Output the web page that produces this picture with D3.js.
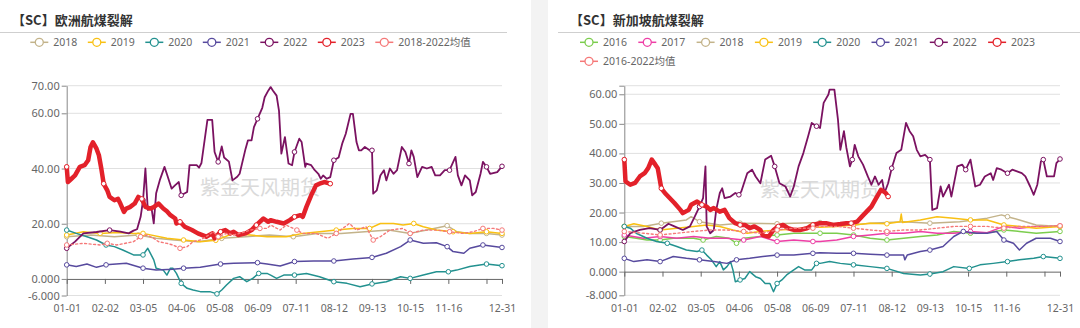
<!DOCTYPE html>
<html><head><meta charset="utf-8">
<script src="https://cdn.jsdelivr.net/npm/d3@7"></script>
<style>
body{margin:0;background:#fff;}
svg{display:block;}
</style>
</head><body>
<svg id="c" width="1080" height="328"></svg>
<script>
// ---------- DATA ----------
// category axis: every day of a (leap) year, MM-DD
const categories = d3.timeDay.range(new Date(2020,0,1), new Date(2021,0,1)).map(d3.timeFormat("%m-%d"));
const xTickDays  = [0,32,64,96,128,160,192,224,256,288,320,352,365];
const xLabelDays = [0,32,64,96,128,160,192,224,256,288,320,365];

const euYTicks  = [-6,0,20,40,60,70];
const euYLabels = ["-6.000","0.000","20.00","40.00","60.00","70.00"];
const sgYTicks  = [-8,0,10,20,30,40,50,60,62.9];
const sgYLabels = ["-8.000","0.000","10.00","20.00","30.00","40.00","50.00","60.00",""];

// Europe jet crack  [dayIndex, value]
const eu2018 = [[0,15.3],[20,15.9],[40,15.3],[60,15.9],[75,14.7],[90,14.1],[110,13.5],[130,14.7],[150,15.3],[170,15.9],[190,15.3],[210,16.5],[230,16.5],[250,17.1],[270,17.7],[288,16.5],[302,17.7],[319,19.3],[327,17.1],[338,16.5],[352,16.5],[365,15.9]];
const eu2019 = [[0,15.9],[14,17.1],[28,16.5],[42,16.8],[56,16.5],[64,16.5],[84,14.7],[98,14.1],[112,13.5],[125,14],[140,16.5],[154,15.9],[168,15.3],[184,15.3],[198,16.5],[212,17.1],[226,17.7],[240,18.3],[254,18.3],[263,20.1],[274,20.1],[282,19.5],[291,20.1],[299,18.9],[310,17.7],[324,17.1],[338,16.5],[352,17.1],[365,16.5]];
const eu2020 = [[0,17.7],[8,16.5],[17,15.3],[25,14.1],[33,12.3],[40,11.7],[47,10.5],[56,8.7],[64,8.7],[68,11.1],[73,6.9],[75,3.9],[81,3.2],[84,1.4],[87,3.9],[89,3.9],[92,2],[96,-1.6],[101,-3.4],[106,-4],[112,-4.6],[120,-4.6],[126,-5.4],[130,-4],[134,-2.2],[140,0.2],[145,0.8],[151,-1],[156,0.2],[161,2],[168,2],[171,1.4],[176,0.2],[182,1.4],[191,1.4],[201,2],[212,0.8],[224,-1],[235,-1.6],[246,-2.8],[256,-1.8],[268,-1],[280,0.8],[288,0.2],[299,1.4],[310,2.6],[320,2.6],[327,3.2],[338,4.5],[352,5.4],[365,4.8]];
const eu2021 = [[0,5.1],[8,4.5],[17,5.4],[25,4.2],[33,5.1],[50,5.7],[64,3.9],[75,3.2],[89,3.5],[98,3.9],[112,4.2],[129,5.4],[140,5.7],[160,5.9],[168,5.4],[179,4.7],[191,6.3],[207,6.5],[224,6.5],[240,7.2],[256,7.8],[268,9.3],[280,11.7],[288,14.1],[299,12.9],[310,13.1],[319,11.7],[324,9.9],[333,9.3],[338,11.1],[349,12.3],[365,11.4]];
const eu2022 = [[0,11.1],[7,13.5],[14,16.5],[25,17],[36,17.7],[45,17.1],[52,16.5],[56,17.5],[59,18],[62,22.5],[64,28.5],[66,40],[68,25],[71,26],[73,20.1],[75,31],[78,35.7],[82,40.6],[84,38],[88,32.7],[91,34],[94,35.1],[96,30.3],[101,31.5],[103,41.2],[109,41.2],[111,40.3],[113,42],[118,57.6],[122,57.6],[124,46],[127,42.4],[130,48],[132,44],[136,42.5],[139,35.7],[143,37],[145,38.1],[150,47.2],[152,50.2],[155,50.2],[157,55],[160,58],[164,62],[166,65.8],[169,68.2],[171,69.5],[173,68.2],[176,66.4],[178,61],[180,45.4],[183,51.4],[186,41.8],[189,41.2],[191,46],[195,50.8],[197,49.6],[200,40.6],[201,41.8],[205,41.2],[208,39.4],[211,38.1],[213,36.3],[215,37.5],[218,36.3],[221,36.9],[224,43],[228,44],[231,49],[234,52.6],[238,59.8],[240,59.8],[243,49.6],[245,46.6],[247,46.6],[250,47.8],[254,46.6],[256,46.6],[257,30.9],[260,32.1],[263,37.5],[266,39.4],[268,35.7],[271,40],[274,38.1],[277,39.4],[281,47.8],[284,46],[287,41.8],[289,46.6],[291,44.2],[294,36.9],[298,40.6],[302,40],[306,40.6],[309,37.5],[313,37.5],[317,39.4],[321,39.4],[326,44.2],[328,37.5],[331,33.9],[334,37.5],[338,35.7],[340,30.3],[343,31.5],[347,38.1],[349,42.4],[352,40.6],[355,38.1],[361,38.7],[365,40.8]];
const eu2023 = [[0,40.6],[1,35.1],[4,36.3],[7,37.5],[11,40.6],[15,41.2],[18,43],[20,47.8],[22,49.5],[25,47.2],[27,44.8],[29,40],[31,34.5],[34,32.1],[36,29.7],[40,28.5],[43,29],[45,27.3],[48,24.3],[50,25.5],[53,26],[57,27.3],[60,29.7],[63,29],[66,26.1],[70,25.5],[73,26],[77,27.3],[81,25.5],[84,24.5],[87,23.1],[91,21.9],[92,20.1],[95,20.7],[99,18.9],[105,17.7],[110,16.5],[117,15.3],[122,16.5],[124,14.7],[129,17.1],[133,17.7],[137,16.5],[140,17.1],[144,15.9],[150,16.5],[155,17.7],[159,19.5],[165,21.9],[169,20.7],[171,21.3],[176,20.7],[182,20.1],[187,21.3],[191,22.5],[196,23.1],[198,22.5],[201,26.1],[205,30.3],[209,33.9],[212,34.5],[216,35.1],[221,34.5]];
const euMean = [[0,12.3],[14,12.9],[28,12.3],[34,12.9],[42,12.3],[56,13.5],[62,15.3],[67,15.9],[73,14.7],[77,13.5],[84,12.9],[89,12.3],[95,11.1],[101,11.7],[106,13.5],[112,14.1],[117,15.3],[123,17.1],[127,15.3],[134,16.5],[140,15.9],[145,16.5],[154,17.7],[162,18.3],[168,18.3],[171,19.5],[179,17.7],[184,19.5],[193,17.7],[198,16.5],[209,16.5],[219,14.7],[226,16.5],[237,20.1],[243,17.7],[251,18.9],[257,14.1],[263,15.3],[271,17.7],[282,18.3],[288,16.5],[299,17.7],[310,17.7],[321,17.1],[332,16.5],[341,17.1],[349,18.3],[358,18.3],[365,17.7]];

// Singapore jet crack  [dayIndex, value]
const sg2016 = [[0,11.9],[10,11.3],[19,10.7],[30,10.7],[41,11.3],[58,11.3],[66,10.7],[77,11.9],[88,11.3],[94,9.6],[100,11.3],[114,11.9],[128,12.4],[142,13],[164,13],[178,13],[192,12.4],[206,11.3],[220,10.7],[234,11.3],[248,11.9],[262,12.4],[276,13.6],[290,13],[304,13.2],[318,14.1],[331,13.6],[345,13],[365,13.6]];
const sg2017 = [[0,12.4],[16,11.3],[30,11.9],[44,11.3],[58,11.9],[72,11.3],[86,11.3],[100,10.7],[114,11.9],[128,10.2],[142,10.7],[158,10.2],[164,10.2],[178,10.7],[192,11.9],[206,12.4],[220,13],[234,13],[248,13.6],[262,13],[276,13],[290,13.6],[304,13.2],[318,15.3],[331,14.7],[345,15.3],[365,15.5]];
const sg2018 = [[0,15.3],[16,15.3],[31,16.4],[52,17.5],[56,18.6],[63,16.9],[80,15.8],[97,16.4],[128,16.2],[142,16.4],[164,16.6],[192,15.8],[206,16.4],[234,16.9],[256,16.4],[281,16.9],[304,18.1],[316,19.2],[321,18.6],[331,17.5],[345,15.8],[365,15.3]];
const sg2019 = [[0,15.3],[8,16.2],[19,15.3],[30,14.1],[44,14.7],[58,15.3],[69,15.8],[80,15.3],[91,14.1],[103,13],[114,13.6],[128,14.1],[142,14.3],[156,15.3],[164,15],[178,15.3],[192,15.8],[206,16.4],[220,16.2],[231,16.9],[232,19.5],[233,16.6],[248,17.5],[262,18.6],[276,18.1],[290,17.5],[304,17.5],[318,15.8],[331,15.3],[345,14.7],[365,15.3]];
const sg2020 = [[0,15.3],[5,14.7],[10,13],[19,11.3],[27,10.2],[36,9.6],[44,8.5],[52,7.3],[61,6.8],[65,7.3],[69,5.6],[73,4],[77,1.7],[80,3.4],[83,0.6],[86,1.7],[89,3.4],[91,0.6],[93,-3.4],[97,-2.8],[101,-2.3],[105,0],[110,-1.7],[114,-2.3],[118,-4],[122,-4],[125,-6.8],[128,-4],[132,-2.8],[136,-1.1],[142,0.6],[146,1.7],[151,0.6],[157,0.6],[161,2.8],[164,2.8],[172,3.4],[181,2.8],[192,2.3],[206,1.7],[220,1.1],[234,-0.6],[248,-1.1],[256,-0.8],[267,0],[276,1.7],[289,1.1],[298,2.3],[309,2.8],[321,3.4],[331,4],[343,4.5],[351,5.1],[365,4.5]];
const sg2021 = [[0,4.5],[8,3.4],[19,4],[30,3.4],[41,5.1],[52,4.5],[63,4],[75,3.4],[86,2.8],[94,4],[105,4.5],[116,5.1],[128,5.6],[142,5.6],[158,6.2],[164,6.4],[178,6.2],[192,6.2],[206,5.9],[220,5.6],[234,5.6],[235,4],[237,5.6],[248,6.8],[256,7.3],[267,8.5],[276,11.9],[284,13.6],[295,13],[304,13],[312,13.6],[318,10.7],[326,9.6],[331,7.3],[337,9.6],[345,11.3],[357,11.3],[365,10.2]];
const sg2022 = [[0,10.2],[5,13],[13,14.1],[21,14.7],[30,14.1],[37,16.2],[42,15.3],[49,14.1],[55,15.3],[59,18.6],[63,22],[66,24.9],[68,35.6],[69,15.3],[72,13],[75,14.1],[77,20.9],[80,26.6],[82,28.2],[84,24.9],[89,25.4],[93,26.6],[96,26],[98,27.1],[103,33.3],[107,34.5],[110,32.2],[114,29.9],[118,37.9],[123,39.2],[126,35.6],[130,29.9],[135,28.8],[139,25.4],[142,28.8],[146,35.6],[150,40.1],[154,45.8],[157,50.3],[161,49.2],[164,48.6],[167,57.1],[171,59.9],[172,61.6],[176,61.6],[179,51.4],[181,41.2],[184,47.5],[186,42],[189,35.6],[191,37.9],[193,42.9],[196,39],[200,36.2],[204,32.2],[207,29.4],[210,32.2],[213,29.4],[216,31],[218,26.6],[221,29.9],[224,35],[228,40.1],[232,41.2],[236,50.3],[239,47.5],[242,45.8],[245,41.2],[248,39],[252,39.5],[256,37.9],[258,20.9],[262,21.5],[265,28.8],[267,25.4],[272,29.4],[274,25.4],[279,35.6],[283,36.2],[286,34.5],[290,37.9],[294,28.8],[298,29.4],[302,32.2],[307,33.3],[309,31],[312,35],[316,34.5],[321,33.3],[325,34.5],[329,33.9],[333,33.3],[336,32.2],[340,28.8],[343,26],[346,29.4],[349,37.3],[351,37.9],[354,32.2],[360,32.2],[362,36.7],[365,38.1]];
const sg2023 = [[0,37.9],[1,30.5],[5,29.4],[9,30],[13,32.2],[17,33.3],[20,35],[23,37.9],[26,36.2],[28,35],[31,28.2],[34,26.6],[38,24.9],[42,23.2],[47,20.9],[49,19.8],[54,20.9],[56,22.6],[61,23.7],[65,22.6],[69,22],[72,20.9],[75,21.5],[80,20.3],[84,20.9],[88,18.1],[93,16.4],[97,15.8],[101,15.8],[105,14.7],[109,15.3],[114,14.1],[116,12.4],[121,11.9],[125,14.1],[129,15.3],[133,15.8],[137,14.7],[142,14.1],[147,14.1],[153,14.7],[158,15.8],[164,16.4],[169,16.4],[175,15.8],[181,16.1],[186,16.4],[190,16.4],[195,16.9],[199,18.6],[203,20.3],[207,22],[211,24.9],[215,27.7],[219,26.6],[221,25.4]];
const sgMean = [[0,13.6],[16,13],[30,12.4],[44,13],[58,13.6],[72,14.1],[86,14.1],[100,13.6],[114,13],[128,14.1],[142,14.7],[158,14.7],[164,15.3],[178,15.3],[192,14.7],[206,14.1],[220,13.6],[234,14.1],[248,14.1],[262,14.7],[276,15.3],[290,15.3],[304,15.3],[318,14.7],[331,15.3],[345,15.3],[365,15.5]];

// ---------- STYLES ----------
const C = {"2016":"#7ccd4e","2017":"#ee3fa6","2018":"#c3b38a","2019":"#f9c013","2020":"#22918f",
           "2021":"#574a9e","2022":"#7b1261","2023":"#e3212a","mean":"#f57878"};
const W = {"2022":1.8,"2023":4.5,"mean":1.4};

const svg = d3.select("#c");
svg.append("rect").attr("x",531).attr("y",0).attr("width",17).attr("height",328).attr("fill","#f3f3f3");

function panel(p){
  const g = svg.append("g");
  g.append("text").attr("x",p.titleX).attr("y",25).text(p.title)
    .attr("font-family",'"Noto Sans CJK SC",sans-serif').attr("font-size",13).attr("font-weight","bold").attr("fill","#333");
  g.append("line").attr("x1",p.ulX1).attr("x2",p.ulX2).attr("y1",32.5).attr("y2",32.5).attr("stroke","#cfcfcf");

  // legend
  p.series.forEach((s,i)=>{
    const row = Math.floor(i/p.perRow), col = i%p.perRow;
    const cx = p.legX + col*p.legStep, cy = 42.3 + row*19;
    const lg = g.append("g");
    lg.append("line").attr("x1",cx-9).attr("x2",cx+9).attr("y1",cy).attr("y2",cy).attr("stroke",C[s.key]).attr("stroke-width",1.5);
    lg.append("circle").attr("cx",cx).attr("cy",cy).attr("r",4).attr("fill","#fff").attr("stroke",C[s.key]).attr("stroke-width",1.3);
    lg.append("text").attr("x",cx+14).attr("y",cy).attr("dy","0.35em").text(s.name)
      .attr("font-family",'"Noto Sans","Noto Sans CJK SC",sans-serif').attr("font-size",10.5).attr("fill","#666");
  });

  const x = d3.scaleLinear().domain([0,365]).range([p.x0,p.x1]);
  const y = d3.scaleLinear().domain(p.yDomain).range([p.yBot,p.yTop]);

  // grid
  g.append("g").selectAll("line").data(p.yTicks.filter(v=>v!==0)).join("line")
    .attr("x1",p.x0).attr("x2",p.x1).attr("y1",d=>y(d)).attr("y2",d=>y(d)).attr("stroke","#e0e0e0");

  // watermark
  g.append("text").attr("x",p.wmX).attr("y",p.wmY).text("紫金天风期货")
    .attr("font-family",'"Noto Sans CJK SC",sans-serif').attr("font-size",20).attr("fill","#d4d4d4").attr("opacity",0.85);

  // y axis
  const ya = d3.axisLeft(y).tickValues(p.yTicks).tickFormat((d,i)=>p.yLabels[i]).tickSizeInner(5).tickSizeOuter(0);
  const yg = g.append("g").attr("transform",`translate(${p.x0},0)`).call(ya);
  yg.select(".domain").attr("stroke","#888");
  yg.selectAll(".tick line").attr("stroke","#888");
  yg.selectAll(".tick text").attr("fill","#666").attr("font-size",11).attr("font-family",'"Noto Sans",sans-serif').attr("x",-7);

  // zero axis with ticks
  const xa = d3.axisBottom(x).tickValues(xTickDays).tickFormat("").tickSizeInner(5).tickSizeOuter(0);
  const xg = g.append("g").attr("transform",`translate(0,${y(0)})`).call(xa);
  xg.select(".domain").attr("stroke","#666");
  xg.selectAll(".tick line").attr("stroke","#666");
  // labels at bottom
  const xl = d3.axisBottom(x).tickValues(xLabelDays).tickFormat(d=>categories[d]).tickSize(0);
  const xlg = g.append("g").attr("transform",`translate(0,${p.yBot+6})`).call(xl);
  xlg.select(".domain").remove();
  xlg.selectAll(".tick text").attr("fill","#666").attr("font-size",10.5).attr("font-family",'"Noto Sans",sans-serif');

  // lines
  const line = d3.line().x(d=>x(d[0])).y(d=>y(d[1]));
  p.series.forEach(s=>{
    g.append("path").datum(s.data).attr("d",line).attr("fill","none")
      .attr("stroke",C[s.key]).attr("stroke-width",W[s.key]||1.5)
      .attr("stroke-linejoin","round").attr("stroke-linecap","round")
      .attr("stroke-dasharray", s.key==="mean" ? "2,2.5" : null);
    const pts = xTickDays.map(t=>{
      let best=null,bd=1e9; s.data.forEach(d=>{const dd=Math.abs(d[0]-t); if(dd<bd){bd=dd;best=d;}});
      return bd<=4 ? best : null;
    }).filter(Boolean);
    g.append("g").selectAll("circle").data(pts).join("circle")
      .attr("cx",d=>x(d[0])).attr("cy",d=>y(d[1])).attr("r",2.3)
      .attr("fill","#fff").attr("stroke",C[s.key]).attr("stroke-width",1);
  });
}

panel({
  title:"【SC】欧洲航煤裂解", titleX:12, ulX1:0, ulX2:507,
  legX:39.3, legStep:57.5, perRow:7,
  x0:66.7, x1:502, yTop:85.7, yBot:295.5, yDomain:[-6,70],
  yTicks:euYTicks, yLabels:euYLabels, wmX:200, wmY:195,
  series:[
    {key:"2018",name:"2018",data:eu2018},{key:"2019",name:"2019",data:eu2019},
    {key:"2020",name:"2020",data:eu2020},{key:"2021",name:"2021",data:eu2021},
    {key:"2022",name:"2022",data:eu2022},{key:"2023",name:"2023",data:eu2023},
    {key:"mean",name:"2018-2022均值",data:euMean}]
});
panel({
  title:"【SC】新加坡航煤裂解", titleX:570, ulX1:558, ulX2:1080,
  legX:589, legStep:58.3, perRow:8,
  x0:624.3, x1:1060, yTop:85.7, yBot:295.3, yDomain:[-8,62.9],
  yTicks:sgYTicks, yLabels:sgYLabels, wmX:760, wmY:197,
  series:[
    {key:"2016",name:"2016",data:sg2016},{key:"2017",name:"2017",data:sg2017},
    {key:"2018",name:"2018",data:sg2018},{key:"2019",name:"2019",data:sg2019},
    {key:"2020",name:"2020",data:sg2020},{key:"2021",name:"2021",data:sg2021},
    {key:"2022",name:"2022",data:sg2022},{key:"2023",name:"2023",data:sg2023},
    {key:"mean",name:"2016-2022均值",data:sgMean}]
});
</script>
</body></html>
